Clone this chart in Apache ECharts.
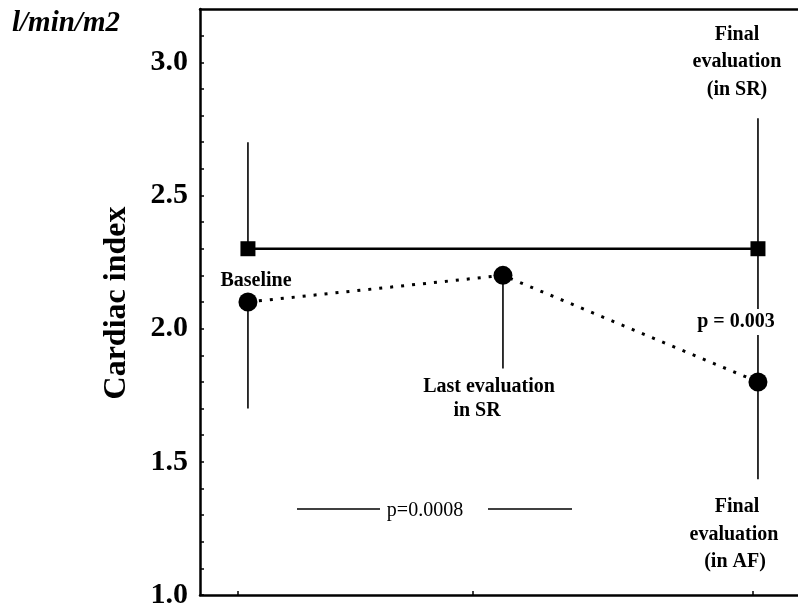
<!DOCTYPE html>
<html><head><meta charset="utf-8">
<script src="https://cdn.jsdelivr.net/npm/echarts@6/dist/echarts.min.js"></script>
<style>html,body{margin:0;padding:0;background:#fff}#c{width:798px;height:610px}</style>
</head><body><div id="c"></div>
<script>
// Data
var positions = [0, 1, 2];            // Baseline, Last evaluation in SR, Final evaluation
var srX = [0, 2];
var srValues = [2.3, 2.3];            // patients staying in SR
var srUpper = [2.7, 2.79];
var afValues = [2.1, 2.2, 1.8];       // patients ending in AF
var afLower = [1.7, 1.85, 1.435];
var afUpper = [2.1, 2.2, 2.3];
var yLabelTicks = [1.0, 1.5, 2.0, 2.5, 3.0];
var yMinorTicks = [1.1,1.2,1.3,1.4,1.6,1.7,1.8,1.9,2.1,2.2,2.3,2.4,2.6,2.7,2.8,2.9,3.1];
var xTicks = [-0.04, 0.88, 1.98];

var FONT = '"Liberation Serif", "Times New Roman", serif';
var srData = srX.map(function(x,i){return [x, srValues[i]];});
var afData = positions.map(function(x,i){return [x, afValues[i]];});
var srErr = srX.map(function(x,i){return [x, srValues[i], srUpper[i]];});
var afErr = positions.map(function(x,i){return [x, afLower[i], afUpper[i]];});

function errRender(params, api){
  var p1 = api.coord([api.value(0), api.value(1)]);
  var p2 = api.coord([api.value(0), api.value(2)]);
  return {type:'line', shape:{x1:p1[0],y1:p1[1],x2:p2[0],y2:p2[1]}, style:{stroke:'#000', lineWidth:1.6}};
}

var chart = echarts.init(document.getElementById('c'), null, {renderer:'canvas'});
var txt = function(text, x, y, size, extra){
  var s = {text:text, x:x, y:y, fill:'#000', font:'bold '+size+'px '+FONT, textAlign:'center', textVerticalAlign:'middle'};
  if(extra){for(var k in extra){s[k]=extra[k];}}
  return {type:'text', style:s, z:100};
};
chart.setOption({
  animation:false,
  backgroundColor:'#fff',
  grid:{left:200, right:0, top:9, bottom:13, containLabel:false},
  xAxis:[{
    type:'value', min:-0.188, max:2.157, position:'bottom',
    axisLine:{show:true, onZero:false, lineStyle:{color:'#000', width:2.5}},
    axisTick:{show:true, inside:true, length:4, customValues:xTicks, lineStyle:{color:'#000', width:1.5}},
    axisLabel:{show:false}, splitLine:{show:false}
  },{
    type:'value', min:-0.188, max:2.157, position:'top',
    axisLine:{show:true, onZero:false, lineStyle:{color:'#000', width:2.5}},
    axisTick:{show:false}, axisLabel:{show:false}, splitLine:{show:false}
  }],
  yAxis:{
    type:'value', min:1.0, max:3.2, interval:0.5, position:'left',
    axisLine:{show:true, onZero:false, lineStyle:{color:'#000', width:2.5}},
    axisTick:{show:true, inside:true, length:4, customValues:yLabelTicks.concat(yMinorTicks), lineStyle:{color:'#000', width:1.5}},
    axisLabel:{customValues:yLabelTicks, formatter:function(v){return v.toFixed(1);}, color:'#000', fontFamily:FONT, fontWeight:'bold', fontSize:30, margin:12},
    splitLine:{show:false}
  },
  series:[
    {type:'custom', renderItem:errRender, data:srErr, z:1, silent:true},
    {type:'custom', renderItem:errRender, data:afErr, z:1, silent:true},
    {type:'line', data:srData, symbol:'rect', symbolSize:15, itemStyle:{color:'#000'},
      lineStyle:{color:'#000', width:2.5, type:'solid'}, z:5},
    {type:'line', data:afData, symbol:'circle', symbolSize:19, itemStyle:{color:'#000'},
      lineStyle:{color:'#000', width:3, type:[3,8]}, z:5}
  ],
  graphic:[
    {type:'text', style:{text:'l/min/m2', x:12, y:24, fill:'#000', font:'italic bold 29px '+FONT, textVerticalAlign:'middle'}},
    {type:'text', rotation:Math.PI/2, x:117, y:303, style:{text:'Cardiac index', x:0, y:0, fill:'#000', font:'bold 32px '+FONT, textAlign:'center', textVerticalAlign:'middle'}},
    txt('Baseline', 256, 281, 20),
    txt('Last evaluation', 489, 387, 20),
    txt('in SR', 477, 411, 20),
    txt('Final', 737, 35, 20),
    txt('evaluation', 737, 62, 20),
    txt('(in SR)', 737, 90, 20),
    txt('p = 0.003', 736, 322, 20, {backgroundColor:'#fff', padding:[3,0,3,0]}),
    txt('Final', 737, 507, 20),
    txt('evaluation', 734, 535, 20),
    txt('(in AF)', 735, 562, 20),
    txt('p=0.0008', 425, 511, 20, {font:'20px '+FONT}),
    {type:'line', shape:{x1:297, y1:509, x2:380, y2:509}, style:{stroke:'#000', lineWidth:1.5}},
    {type:'line', shape:{x1:488, y1:509, x2:572, y2:509}, style:{stroke:'#000', lineWidth:1.5}}
  ]
});
</script></body></html>
